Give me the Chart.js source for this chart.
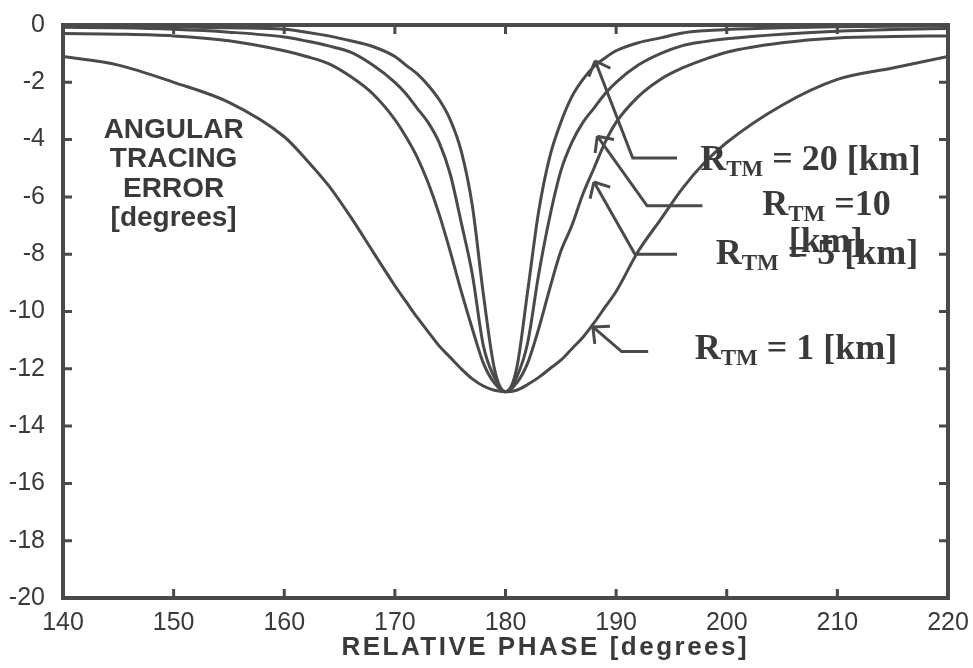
<!DOCTYPE html>
<html>
<head>
<meta charset="utf-8">
<title>Angular tracing error</title>
<script src="https://cdn.jsdelivr.net/npm/chart.js@4.4.1/dist/chart.umd.min.js"></script>
<style>
    html, body { margin: 0; padding: 0; background: #fff; }
    #wrap { width: 973px; height: 668px; }
</style>
</head>
<body>
<div id="wrap"><canvas id="chart" width="973" height="668"></canvas></div>
<script>
// relative phase [degrees]
const phase = [140, 145, 150, 155, 160, 162, 164, 166, 168, 170, 171, 172, 173, 174, 175, 176, 177, 178, 179, 180,
    181, 182, 183, 184, 185, 186, 187, 188, 189, 190, 192, 194, 196, 198, 200, 205, 210, 215, 220];

// angular tracing error [degrees] for each R_TM
const rtm20 = [-0.03, -0.04, -0.06, -0.1, -0.15, -0.25, -0.38, -0.55, -0.75, -1.1, -1.4, -1.7, -2.1, -2.6, -3.3, -4.4, -6.3, -9.4, -12.0, -12.8,
    -12.0, -9.3, -6.5, -4.6, -3.4, -2.5, -1.9, -1.45, -1.15, -0.9, -0.62, -0.45, -0.28, -0.2, -0.16, -0.1, -0.06, -0.04, -0.03];
const rtm10 = [-0.08, -0.1, -0.15, -0.25, -0.42, -0.56, -0.73, -0.95, -1.4, -2.0, -2.4, -2.9, -3.4, -4.1, -5.2, -6.9, -8.7, -11.2, -12.3, -12.8,
    -12.3, -11.1, -8.7, -6.7, -5.1, -4.1, -3.4, -2.9, -2.4, -2.0, -1.4, -1.0, -0.72, -0.58, -0.48, -0.32, -0.22, -0.16, -0.12];
const rtm5 = [-0.3, -0.32, -0.38, -0.55, -0.9, -1.1, -1.35, -1.8, -2.4, -3.3, -3.9, -4.6, -5.5, -6.6, -7.9, -9.3, -10.6, -11.8, -12.5, -12.8,
    -12.5, -11.8, -10.6, -9.2, -7.9, -7.0, -5.9, -5.0, -4.1, -3.4, -2.5, -1.9, -1.5, -1.2, -0.95, -0.62, -0.45, -0.4, -0.38];
const rtm1 = [-1.1, -1.4, -2.0, -2.7, -3.9, -4.7, -5.6, -6.7, -7.9, -9.1, -9.65, -10.2, -10.7, -11.2, -11.6, -12.0, -12.35, -12.6, -12.75, -12.8,
    -12.75, -12.55, -12.3, -12.0, -11.7, -11.3, -10.9, -10.4, -9.85, -9.3, -7.9, -6.8, -5.7, -4.8, -4.1, -2.8, -1.9, -1.5, -1.1];

const xTitle = 'RELATIVE PHASE [degrees]';
const yTitle = ['ANGULAR', 'TRACING', 'ERROR', '[degrees]'];

const ink = '#4a4a4a';
const textInk = '#3a3a3a';
const sans = "'Liberation Sans', Arial, sans-serif";
const serif = "'Liberation Serif', 'Times New Roman', serif";

// call-out arrows: tip, bend, end (data units) and their labels
const callouts = [
    { pts: [[188.1, -1.25], [191.5, -4.64], [195.5, -4.64]], label: [{ x: 197.6, y: -4.64, rest: ' = 20 [km]' }] },
    { pts: [[188.3, -3.88], [192.8, -6.31], [197.8, -6.31]], label: [{ x: 203.2, y: -6.2, rest: ' =10' }, { x: 205.6, y: -7.49, plain: '[km]' }] },
    { pts: [[188.0, -5.48], [191.7, -8.0], [195.5, -8.0]], label: [{ x: 199.0, y: -7.94, rest: ' = 5 [km]' }] },
    { pts: [[187.9, -10.54], [190.5, -11.4], [192.9, -11.4]], label: [{ x: 197.1, y: -11.23, rest: ' = 1 [km]' }] }
];

const frame = {
    id: 'frame',
    afterDatasetsDraw(chart) {
        const { ctx, chartArea: a, scales: { x, y } } = chart;
        ctx.save();
        ctx.strokeStyle = ink;
        ctx.lineWidth = 4;
        ctx.strokeRect(a.left, a.top, a.right - a.left, a.bottom - a.top);

        // inward tick marks on all four sides
        ctx.lineWidth = 3;
        ctx.beginPath();
        x.ticks.forEach(t => {
            const px = x.getPixelForValue(t.value);
            ctx.moveTo(px, a.bottom); ctx.lineTo(px, a.bottom - 9);
            ctx.moveTo(px, a.top); ctx.lineTo(px, a.top + 9);
        });
        y.ticks.forEach(t => {
            const py = y.getPixelForValue(t.value);
            ctx.moveTo(a.left, py); ctx.lineTo(a.left + 9, py);
            ctx.moveTo(a.right, py); ctx.lineTo(a.right - 9, py);
        });
        ctx.stroke();

        // y title inside the plot
        ctx.fillStyle = textInk;
        ctx.font = 'bold 28px ' + sans;
        ctx.textAlign = 'center';
        ctx.textBaseline = 'middle';
        const cx = x.getPixelForValue(150);
        const cy = y.getPixelForValue(-3.67);
        yTitle.forEach((s, i) => ctx.fillText(s, cx, cy + i * 29.5));

        // x title, a bit right of centre as in the original
        ctx.font = 'bold 26px ' + sans;
        ctx.letterSpacing = '2.5px';
        ctx.textBaseline = 'alphabetic';
        ctx.fillText(xTitle, x.getPixelForValue(183.6), a.bottom + 57);
        ctx.letterSpacing = '0px';

        // arrows
        ctx.strokeStyle = ink;
        ctx.lineWidth = 3;
        callouts.forEach(c => {
            const p = c.pts.map(q => [x.getPixelForValue(q[0]), y.getPixelForValue(q[1])]);
            ctx.beginPath();
            ctx.moveTo(p[0][0], p[0][1]);
            p.slice(1).forEach(q => ctx.lineTo(q[0], q[1]));
            ctx.stroke();
            const ang = Math.atan2(p[1][1] - p[0][1], p[1][0] - p[0][0]);
            ctx.beginPath();
            [-0.75, 0.75].forEach(d => {
                ctx.moveTo(p[0][0], p[0][1]);
                ctx.lineTo(p[0][0] + 17 * Math.cos(ang + d), p[0][1] + 17 * Math.sin(ang + d));
            });
            ctx.stroke();

            // labels with subscript
            ctx.textAlign = 'left';
            ctx.textBaseline = 'alphabetic';
            c.label.forEach(l => {
                let px = x.getPixelForValue(l.x);
                const base = y.getPixelForValue(l.y) + 12;
                ctx.font = 'bold 36px ' + serif;
                if (l.plain) { ctx.fillText(l.plain, px, base); return; }
                ctx.fillText('R', px, base);
                px += ctx.measureText('R').width;
                ctx.font = 'bold 23px ' + serif;
                ctx.fillText('TM', px, base + 6);
                px += ctx.measureText('TM').width;
                ctx.font = 'bold 36px ' + serif;
                ctx.fillText(l.rest, px, base);
            });
        });
        ctx.restore();
    }
};

const series = [rtm20, rtm10, rtm5, rtm1];

new Chart(document.getElementById('chart'), {
    type: 'line',
    data: {
        datasets: series.map((s, k) => ({
            label: ['20', '10', '5', '1'][k],
            data: phase.map((p, i) => ({ x: p, y: s[i] })),
            borderColor: ink,
            borderWidth: 3,
            pointRadius: 0,
            cubicInterpolationMode: 'monotone',
            fill: false
        }))
    },
    options: {
        responsive: false,
        animation: false,
        layout: { padding: { top: 21, right: 25, left: 0, bottom: 0 } },
        plugins: { legend: { display: false }, tooltip: { enabled: false } },
        scales: {
            x: {
                type: 'linear',
                min: 140,
                max: 220,
                grid: { display: false },
                border: { display: false },
                ticks: { stepSize: 10, padding: 2, color: textInk, font: { family: sans, size: 25 }, maxRotation: 0 },
                afterFit: s => { s.height = 70; }
            },
            y: {
                min: -20,
                max: 0,
                grid: { display: false },
                border: { display: false },
                ticks: { stepSize: 2, padding: 10, color: textInk, font: { family: sans, size: 25 } },
                afterFit: s => { s.width = 63; }
            }
        }
    },
    plugins: [frame]
});
</script>
</body>
</html>
